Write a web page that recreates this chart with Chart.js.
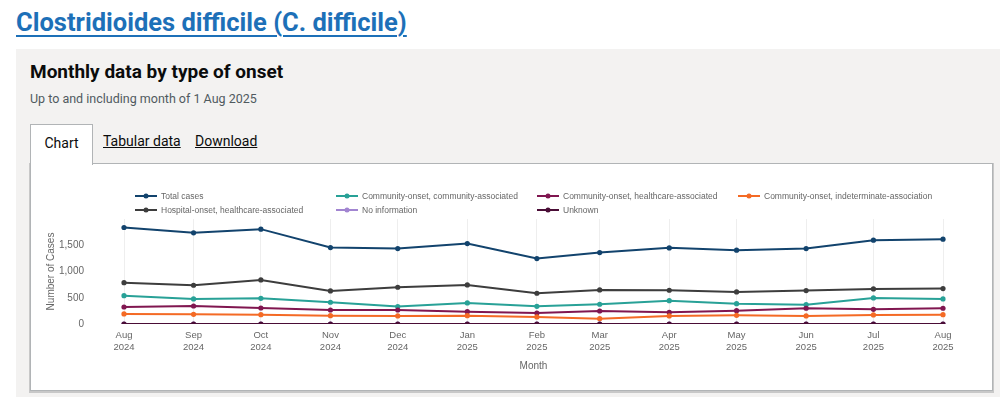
<!DOCTYPE html>
<html>
<head>
<meta charset="utf-8">
<script src="https://cdn.jsdelivr.net/npm/chart.js@4"></script>
<style>
  body { margin: 0; background: #fff; font-family: Roboto, "Liberation Sans", Arial, sans-serif; color: #0b0c0c; }
  #page { position: relative; width: 1000px; height: 397px; overflow: hidden; }
  h1 { position: absolute; left: 16px; top: 0; margin: 0; font-size: 25.5px; line-height: 44px; font-weight: 700; color: #1d70b8; text-decoration: underline; text-decoration-thickness: 2px; text-underline-offset: 4px; }
  #panel { position: absolute; left: 16px; top: 49px; width: 1000px; height: 360px; background: #f3f2f1; }
  h2 { position: absolute; left: 30px; top: 59px; margin: 0; font-size: 19px; line-height: 26px; font-weight: 700; }
  #sub { position: absolute; left: 30px; top: 91px; font-size: 12.5px; color: #505a5f; }
  #tab { position: absolute; left: 30px; top: 124px; width: 61px; height: 40px; background: #fff; border: 1px solid #b1b4b6; border-bottom: none; font-size: 14px; line-height: 37px; text-align: center; z-index: 2; }
  .link { position: absolute; top: 133px; font-size: 14px; text-decoration: underline; }
  #box { position: absolute; left: 30px; top: 163px; width: 961px; height: 226px; background: #fff; border: 1px solid #b1b4b6; box-shadow: 0 1px 0 1px #c8c8c8; }
  #wrap { position: absolute; left: 31px; top: 164px; width: 961px; height: 226px; }
</style>
</head>
<body>
<div id="page">
  <h1>Clostridioides difficile (C. difficile)</h1>
  <div id="panel"></div>
  <h2>Monthly data by type of onset</h2>
  <div id="sub">Up to and including month of 1 Aug 2025</div>
  <div id="box"></div>
  <div id="tab">Chart</div>
  <div class="link" style="left:103px">Tabular data</div>
  <div class="link" style="left:195px">Download</div>
  <div id="wrap"><canvas id="Onset"></canvas></div>
</div>
<script>
// mesi (primo giorno del mese)
const months = ["2024-08-01", "2024-09-01", "2024-10-01", "2024-11-01", "2024-12-01", "2025-01-01",
    "2025-02-01", "2025-03-01", "2025-04-01", "2025-05-01", "2025-06-01", "2025-07-01", "2025-08-01"];
const monthNames = ["Jan", "Feb", "Mar", "Apr", "May", "Jun", "Jul", "Aug", "Sep", "Oct", "Nov", "Dec"];
const yTicks = [0, 500, 1000, 1500];

const totalCases = [1838, 1737, 1807, 1456, 1437, 1532, 1246, 1361, 1450, 1406, 1437, 1597, 1616];
const coCommunity = [540, 477, 490, 414, 331, 401, 337, 376, 445, 388, 369, 496, 477];
const coHealthcare = [324, 343, 305, 267, 267, 235, 210, 248, 223, 254, 300, 280, 300];
const coIndeterminate = [191, 185, 178, 159, 153, 159, 134, 102, 153, 165, 153, 172, 178];
const hospitalOnset = [788, 738, 840, 630, 700, 744, 586, 649, 643, 611, 636, 668, 674];
const noInformation = [0, 0, 0, 0, 0, 0, 0, 0, 0, 0, 0, 0, 0];
const unknown = [0, 0, 0, 0, 0, 0, 0, 0, 0, 0, 0, 0, 0];

// giorni dal primo mese, per una scala proporzionale al tempo
const t0 = Date.parse(months[0]);
const dayOffsets = months.map((m) => Math.round((Date.parse(m) - t0) / 86400000));

function series(label, values, color, order) {
    return {
        label: label,
        data: values.map((v, i) => ({ x: dayOffsets[i], y: v })),
        borderColor: color,
        backgroundColor: color,
        borderWidth: 2,
        pointRadius: 2.6,
        pointBorderWidth: 0,
        pointHoverRadius: 4,
        // taglia solo sotto l'asse, come nell'originale
        clip: { left: false, right: false, top: false, bottom: 0 },
        order: order, // l'ultima serie va disegnata sopra
    };
}

const datasets = [
    series("Total cases", totalCases, "#12436D", 6),
    series("Community-onset, community-associated", coCommunity, "#28A197", 5),
    series("Community-onset, healthcare-associated", coHealthcare, "#801650", 4),
    series("Community-onset, indeterminate-association", coIndeterminate, "#F46A25", 3),
    series("Hospital-onset, healthcare-associated", hospitalOnset, "#3D3D3D", 2),
    series("No information", noInformation, "#A285D1", 1),
    series("Unknown", unknown, "#4A0D36", 0),
];

// legenda a griglia (4 colonne)
const gridLegend = {
    id: "gridLegend",
    afterDraw(chart) {
        const ctx = chart.ctx;
        ctx.save();
        ctx.font = "8.5px 'Liberation Sans', Arial, sans-serif";
        ctx.textBaseline = "middle";
        chart.data.datasets.forEach((ds, i) => {
            const x = 104 + (i % 4) * 201;
            const y = 32 + Math.floor(i / 4) * 14;
            ctx.strokeStyle = ds.borderColor;
            ctx.fillStyle = ds.borderColor;
            ctx.lineWidth = 2;
            ctx.beginPath();
            ctx.moveTo(x, y);
            ctx.lineTo(x + 22, y);
            ctx.stroke();
            ctx.beginPath();
            ctx.arc(x + 11, y, 2.5, 0, Math.PI * 2);
            ctx.fill();
            ctx.fillStyle = "#666";
            ctx.fillText(ds.label, x + 26, y + 0.5);
        });
        ctx.restore();
    },
};

const ctx = document.getElementById("Onset").getContext("2d");
new Chart(ctx, {
    type: "line",
    data: { datasets: datasets },
    plugins: [gridLegend],
    options: {
        responsive: true,
        maintainAspectRatio: false,
        animation: false,
        layout: { padding: { top: 55, right: 49, left: 0, bottom: 0 } },
        plugins: { legend: { display: false }, tooltip: { enabled: true } },
        scales: {
            x: {
                type: "linear",
                min: 0,
                max: dayOffsets[dayOffsets.length - 1],
                afterBuildTicks: (s) => { s.ticks = dayOffsets.map((v) => ({ value: v })); },
                afterFit: (s) => { s.height = 66; },
                grid: { color: "#eeeeee", drawTicks: false },
                border: { display: false },
                ticks: {
                    padding: 6,
                    autoSkip: false,
                    maxRotation: 0,
                    color: "#666",
                    font: { family: "'Liberation Sans', Arial, sans-serif", size: 9.5 },
                    callback: (v) => {
                        const d = new Date(months[dayOffsets.indexOf(v)]);
                        return [monthNames[d.getUTCMonth()], String(d.getUTCFullYear())];
                    },
                },
                title: {
                    display: true,
                    text: "Month",
                    color: "#666",
                    font: { family: "'Liberation Sans', Arial, sans-serif", size: 10 },
                    padding: { top: 10, bottom: 18 },
                },
            },
            y: {
                min: 0,
                max: 2000,
                afterBuildTicks: (s) => { s.ticks = yTicks.map((v) => ({ value: v })); },
                afterFit: (s) => { s.width = 93; },
                grid: { display: false, drawTicks: false },
                border: { display: false },
                ticks: {
                    padding: 40,
                    color: "#666",
                    font: { family: "'Liberation Sans', Arial, sans-serif", size: 10 },
                    callback: (v) => v.toLocaleString("en-GB"),
                },
                title: {
                    display: true,
                    text: "Number of Cases",
                    color: "#666",
                    font: { family: "'Liberation Sans', Arial, sans-serif", size: 10 },
                    padding: { top: 14, bottom: 0 },
                },
            },
        },
    },
});
</script>
</body>
</html>
